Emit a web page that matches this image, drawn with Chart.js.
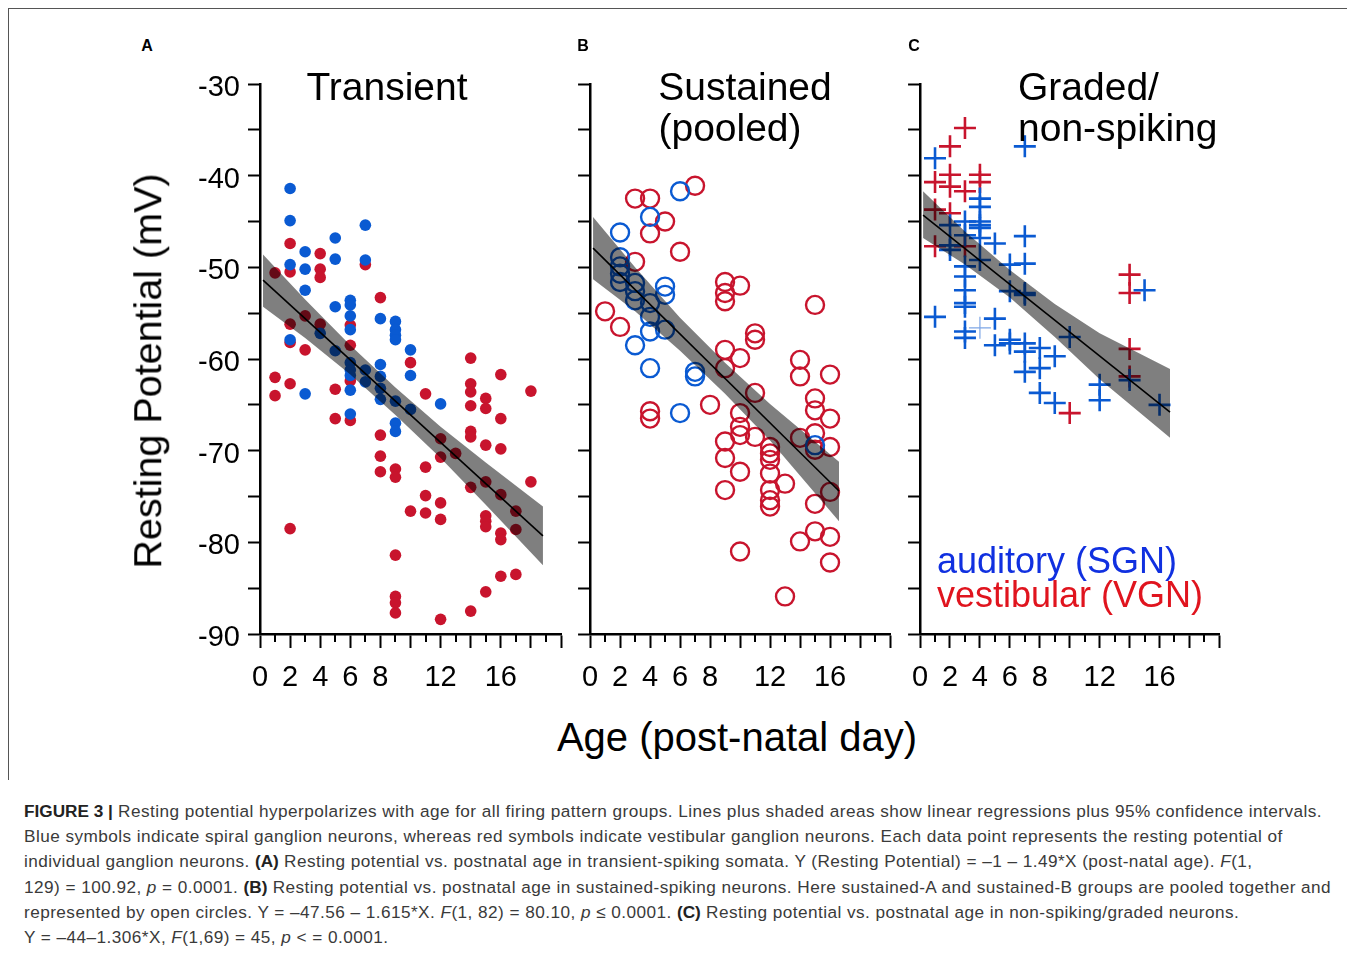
<!DOCTYPE html>
<html>
<head>
<meta charset="utf-8">
<script src="https://cdn.jsdelivr.net/npm/chart.js@4.4.1/dist/chart.umd.min.js"></script>
<style>
  body { margin: 0; background: #fff; }
  #fig { position: relative; width: 1355px; height: 955px; overflow: hidden; font-family: "Liberation Sans", Arial, sans-serif; }
  canvas { position: absolute; }
  .t { position: absolute; white-space: nowrap; line-height: 1; color: #000; }
  .cap { position: absolute; left: 24px; white-space: nowrap; font-size: 17.2px; letter-spacing: 0.45px; line-height: 20px; color: #3a3a3a; }
  .cap b { color: #222; letter-spacing: 0; }
</style>
</head>
<body>
<div id="fig">
  <div style="position:absolute;left:8px;top:8px;width:1339px;height:1px;background:#555"></div>
  <div style="position:absolute;left:8px;top:8px;width:1px;height:772px;background:#555"></div>

  <canvas id="chartA" width="414" height="640" style="left:160px;top:54px"></canvas>
  <canvas id="chartB" width="334" height="640" style="left:569px;top:54px"></canvas>
  <canvas id="chartC" width="334" height="640" style="left:899px;top:54px"></canvas>
</div>

<script>
// ---- data (day, resting potential mV) ----
// A: transient
var transientSGN = [[2,-41.4],[2,-44.9],[2,-49.7],[2,-57.9],[3,-48.3],[3,-50.2],[3,-52.5],[3,-63.8],
  [4,-57.2],[5,-46.8],[5,-49.1],[5,-54.3],[5,-59.1],[6,-53.6],[6,-54.1],[6,-55.3],[6,-56.8],
  [6,-60.4],[6,-61.2],[6,-61.8],[6,-63.4],[6,-66.0],[7,-45.4],[7,-49.2],[7,-61.2],[7,-62.5],
  [8,-55.6],[8,-60.6],[8,-61.9],[8,-63.2],[8,-64.4],[9,-55.9],[9,-56.8],[9,-57.4],[9,-57.9],
  [9,-64.6],[9,-67.0],[9,-67.9],[10,-59.0],[10,-61.8],[10,-65.5],[12,-64.9]];
var transientVGN = [[1,-50.6],[1,-62.0],[1,-64.0],[2,-47.4],[2,-50.5],[2,-56.2],[2,-58.2],[2,-62.7],
  [2,-78.5],[3,-55.3],[3,-59.0],[4,-48.5],[4,-50.2],[4,-51.1],[4,-56.2],[5,-63.3],[5,-66.5],
  [6,-56.3],[6,-58.5],[6,-62.4],[6,-66.7],[7,-49.7],[8,-53.3],[8,-68.3],[8,-70.6],[8,-72.3],
  [9,-72.0],[9,-72.9],[9,-81.4],[9,-85.9],[9,-86.6],[9,-87.7],[10,-60.4],[10,-76.6],
  [11,-63.8],[11,-71.8],[11,-74.9],[11,-76.8],[12,-68.7],[12,-70.7],[12,-75.7],[12,-77.5],[12,-88.4],
  [13,-70.3],[14,-59.9],[14,-62.7],[14,-63.6],[14,-65.1],[14,-67.9],[14,-68.5],[14,-74.0],[14,-87.5],
  [15,-64.3],[15,-65.4],[15,-69.4],[15,-73.4],[15,-77.1],[15,-77.7],[15,-78.3],[15,-85.4],
  [16,-61.7],[16,-66.5],[16,-69.8],[16,-74.8],[16,-79.0],[16,-79.7],[16,-83.7],
  [17,-76.6],[17,-78.6],[17,-83.5],[18,-63.5],[18,-73.4]];
// B: sustained (pooled)
var sustainedSGN = [[2,-46.2],[2,-48.9],[2,-49.9],[2,-50.7],[2,-51.6],[3,-51.7],[3,-52.6],[3,-53.6],
  [3,-58.5],[4,-44.5],[4,-53.9],[4,-55.4],[4,-57.0],[4,-61.0],[5,-52.1],[5,-53.0],[5,-56.8],
  [6,-41.7],[6,-65.9],[7,-61.4],[7,-61.9],[15,-69.4]];
var sustainedVGN = [[1,-54.8],[2,-56.5],[3,-42.5],[3,-49.4],[4,-42.5],[4,-46.3],[4,-65.7],[4,-66.5],
  [5,-45.0],[6,-48.3],[7,-41.1],[8,-65.0],[9,-51.6],[9,-52.8],[9,-53.7],[9,-59.0],[9,-61.0],
  [9,-69.0],[9,-70.8],[9,-74.3],[10,-52.0],[10,-59.9],[10,-65.9],[10,-67.4],[10,-68.3],[10,-72.3],
  [10,-81.0],[11,-57.2],[11,-57.9],[11,-63.7],[11,-68.5],[12,-69.6],[12,-70.3],[12,-71.0],
  [12,-72.5],[12,-74.3],[12,-75.4],[12,-76.1],[13,-73.6],[13,-85.9],[14,-60.1],[14,-61.9],
  [14,-68.6],[14,-79.9],[15,-54.1],[15,-64.3],[15,-65.6],[15,-68.1],[15,-69.9],[15,-75.8],
  [15,-78.8],[16,-61.7],[16,-66.5],[16,-69.6],[16,-74.5],[16,-79.4],[16,-82.2]];
// C: graded / non-spiking
var gradedSGN = [[1,-38.1],[1,-55.4],[2,-45.4],[2,-47.6],[2,-48.1],[3,-45.0],[3,-46.5],[3,-49.9],
  [3,-51.0],[3,-52.5],[3,-53.9],[3,-54.3],[3,-57.0],[3,-57.7],[4,-42.5],[4,-43.4],[4,-45.0],
  [4,-45.4],[4,-45.7],[4,-46.8],[4,-49.2],[5,-47.4],[5,-55.6],[5,-58.5],[6,-49.7],[6,-52.6],
  [6,-57.9],[6,-58.3],[7,-36.8],[7,-46.6],[7,-49.6],[7,-52.8],[7,-53.0],[7,-58.3],[7,-59.2],
  [7,-61.4],[8,-58.8],[8,-61.0],[8,-63.7],[9,-59.7],[9,-64.8],[10,-57.6],[12,-62.8],[12,-64.5],
  [14,-62.3],[15,-52.5],[16,-65.0]];
var gradedSGNfaint = [[4,-56.6]];
var gradedVGN = [[1,-40.7],[1,-43.7],[1,-47.7],[2,-36.8],[2,-39.9],[2,-41.2],[2,-44.1],[3,-34.8],
  [3,-41.7],[3,-47.7],[4,-39.9],[4,-40.7],[10,-65.9],[14,-50.8],[14,-52.8],[14,-58.9],[14,-61.9]];

// regression lines and 95% CI bands
var fitA = [[0.2,-51.4],[18.8,-79.3]];
var bandA_x  = [0.2, 3, 6, 9, 12, 15, 18.8];
var bandA_hi = [-48.6, -53.5, -58.5, -63.1, -67.4, -71.3, -76.1];
var bandA_lo = [-54.3, -57.7, -61.7, -66.1, -70.8, -75.9, -82.5];

var fitB = [[0.2,-47.9],[16.6,-74.4]];
var bandB_x  = [0.2, 3, 6, 9, 12, 16.6];
var bandB_hi = [-44.5, -50.0, -55.5, -60.4, -64.9, -71.2];
var bandB_lo = [-51.3, -54.8, -59.1, -63.8, -68.9, -77.7];

var fitC = [[0.2,-44.3],[16.7,-65.8]];
var bandC_x  = [0.2, 3, 6, 9, 12, 16.7];
var bandC_hi = [-41.7, -46.1, -50.3, -54.0, -57.2, -61.1];
var bandC_lo = [-46.8, -49.7, -53.3, -57.6, -62.2, -68.6];

var dayLabels = [0, 2, 4, 6, 8, 12, 16];

var BLUE = '#0a5ad2';
var RED = '#c8142d';

Chart.defaults.font.family = '"Liberation Sans", Arial, sans-serif';
Chart.defaults.color = '#000';

function pts(arr) {
  return arr.map(function (p) { return { x: p[0], y: p[1] }; });
}
function band(xs, ys) {
  return xs.map(function (x, i) { return { x: x, y: ys[i] }; });
}

// short ticks at odd days
var minorTicks = {
  id: 'minorTicks',
  afterDraw: function (chart) {
    var xs = chart.scales.x, ctx = chart.ctx;
    ctx.save();
    ctx.strokeStyle = '#000';
    ctx.lineWidth = 2;
    for (var v = 1; v < 20; v += 2) {
      var px = Math.round(xs.getPixelForValue(v));
      ctx.beginPath();
      ctx.moveTo(px, xs.top);
      ctx.lineTo(px, xs.top + 8);
      ctx.stroke();
    }
    ctx.restore();
  }
};

function makeChart(id, showYLabels, yWidth, datasets) {
  return new Chart(document.getElementById(id), {
    type: 'scatter',
    data: { datasets: datasets },
    plugins: [minorTicks],
    options: {
      responsive: false,
      animation: false,
      devicePixelRatio: 1,
      layout: { padding: { top: 30, right: 10, left: 0, bottom: 0 } },
      plugins: { legend: { display: false }, tooltip: { enabled: false }, filler: { drawTime: 'beforeDatasetDraw' } },
      scales: {
        x: {
          type: 'linear', min: 0, max: 20,
          afterFit: function (s) { s.height = 60; },
          border: { color: '#000', width: 2.5 },
          grid: {
            drawOnChartArea: false, tickLength: 14, tickWidth: 2,
            tickColor: function (c) { return (c.tick && c.tick.value % 2 === 0) ? '#000' : 'rgba(0,0,0,0)'; }
          },
          ticks: {
            stepSize: 1, autoSkip: false, maxRotation: 0, padding: 13,
            font: { size: 29 },
            callback: function (v) { return dayLabels.indexOf(v) >= 0 ? String(v) : ''; }
          }
        },
        y: {
          type: 'linear', min: -90, max: -30,
          afterFit: function (s) { s.width = yWidth; },
          border: { color: '#000', width: 2.5 },
          grid: { drawOnChartArea: false, tickLength: 12, tickWidth: 2, tickColor: '#000' },
          ticks: {
            display: showYLabels, stepSize: 5, padding: 8, labelOffset: 4,
            font: { size: 29 },
            callback: function (v) { return v % 10 === 0 ? String(v) : ''; }
          }
        }
      }
    }
  });
}

function bandSets(xs, hi, lo, fit) {
  return [
    { data: pts(fit), showLine: true, borderColor: '#000', borderWidth: 1.6, pointRadius: 0, order: -2 },
    { data: band(xs, hi), showLine: true, borderWidth: 0, pointRadius: 0, fill: '+1',
      backgroundColor: 'rgba(0,0,0,0.5)', order: -1 },
    { data: band(xs, lo), showLine: true, borderWidth: 0, pointRadius: 0, fill: false, order: -1 }
  ];
}

makeChart('chartA', true, 100, [
  { data: pts(transientVGN), pointStyle: 'circle', pointRadius: 5.8, pointBackgroundColor: RED, pointBorderWidth: 0, order: 3 },
  { data: pts(transientSGN), pointStyle: 'circle', pointRadius: 5.8, pointBackgroundColor: BLUE, pointBorderWidth: 0, order: 2 }
].concat(bandSets(bandA_x, bandA_hi, bandA_lo, fitA)));

makeChart('chartB', false, 20, [
  { data: pts(sustainedVGN), pointStyle: 'circle', pointRadius: 9, pointBackgroundColor: 'rgba(0,0,0,0)', pointBorderColor: RED, pointBorderWidth: 2.4, order: 3 },
  { data: pts(sustainedSGN), pointStyle: 'circle', pointRadius: 9, pointBackgroundColor: 'rgba(0,0,0,0)', pointBorderColor: BLUE, pointBorderWidth: 2.4, order: 2 }
].concat(bandSets(bandB_x, bandB_hi, bandB_lo, fitB)));

makeChart('chartC', false, 20, [
  { data: pts(gradedVGN), pointStyle: 'cross', pointRadius: 11, pointBorderColor: RED, pointBorderWidth: 2.6, order: 4 },
  { data: pts(gradedSGN), pointStyle: 'cross', pointRadius: 11, pointBorderColor: BLUE, pointBorderWidth: 2.6, order: 3 },
  { data: pts(gradedSGNfaint), pointStyle: 'cross', pointRadius: 11, pointBorderColor: '#7ea6e6', pointBorderWidth: 1.2, order: 2 }
].concat(bandSets(bandC_x, bandC_hi, bandC_lo, fitC)));

// ---- text ----
var fig = document.getElementById('fig');
function txt(s, x, baseline, size, opts) {
  opts = opts || {};
  var d = document.createElement('div');
  d.className = 't';
  d.innerHTML = s;
  d.style.fontSize = size + 'px';
  d.style.top = (baseline - 0.8465 * size) + 'px';
  d.style.left = x + 'px';
  if (opts.center) d.style.transform = 'translateX(-50%)';
  if (opts.bold) d.style.fontWeight = 'bold';
  if (opts.color) d.style.color = opts.color;
  fig.appendChild(d);
  return d;
}

txt('A', 147, 52, 16, { center: true, bold: true });
txt('B', 583, 52, 16, { center: true, bold: true });
txt('C', 914, 52, 16, { center: true, bold: true });

txt('Transient', 387, 100, 39, { center: true });
txt('Sustained', 745, 100, 39, { center: true });
txt('(pooled)', 730, 141, 39, { center: true });
txt('Graded/', 1018, 100, 39);
txt('non-spiking', 1018, 141, 39);

txt('auditory (SGN)', 937, 573, 36, { color: '#1030e0' });
txt('vestibular (VGN)', 937, 607, 36, { color: '#e0141e' });

txt('Age (post-natal day)', 737, 751, 40, { center: true });

var yt = document.createElement('div');
yt.className = 't';
yt.textContent = 'Resting Potential (mV)';
yt.style.fontSize = '39.5px';
yt.style.left = '148px';
yt.style.top = '371px';
yt.style.transform = 'translate(-50%,-50%) rotate(-90deg)';
fig.appendChild(yt);

// ---- caption ----
var captionLines = [
  '<b>FIGURE 3 |</b> Resting potential hyperpolarizes with age for all firing pattern groups. Lines plus shaded areas show linear regressions plus 95% confidence intervals.',
  'Blue symbols indicate spiral ganglion neurons, whereas red symbols indicate vestibular ganglion neurons. Each data point represents the resting potential of',
  'individual ganglion neurons. <b>(A)</b> Resting potential vs. postnatal age in transient-spiking somata. Y (Resting Potential) = \u20131 \u2013 1.49*X (post-natal age). <i>F</i>(1,',
  '129) = 100.92, <i>p</i> = 0.0001. <b>(B)</b> Resting potential vs. postnatal age in sustained-spiking neurons. Here sustained-A and sustained-B groups are pooled together and',
  'represented by open circles. Y = \u201347.56 \u2013 1.615*X. <i>F</i>(1, 82) = 80.10, <i>p</i> \u2264 0.0001. <b>(C)</b> Resting potential vs. postnatal age in non-spiking/graded neurons.',
  'Y = \u201344\u20131.306*X, <i>F</i>(1,69) = 45, <i>p</i> &lt; = 0.0001.'
];
captionLines.forEach(function (s, i) {
  var d = document.createElement('div');
  d.className = 'cap';
  d.innerHTML = s;
  d.style.top = (801 + i * 25.2) + 'px';
  fig.appendChild(d);
});
</script>
</body>
</html>
